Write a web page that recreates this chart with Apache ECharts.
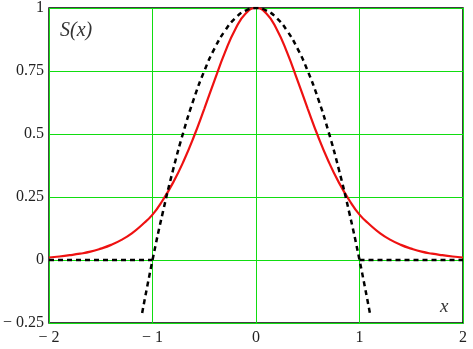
<!DOCTYPE html>
<html>
<head>
<meta charset="utf-8">
<script src="https://cdn.jsdelivr.net/npm/echarts@6/dist/echarts.min.js"></script>
<style>
html,body{margin:0;padding:0;background:#fff;}
#main{width:473px;height:349px;}
</style>
</head>
<body>
<div id="main"></div>
<script>
// red curve S(x)
var redX = [-2,-1.9,-1.8,-1.7,-1.6,-1.5,-1.4,-1.3,-1.2,-1.1,-1,-0.9,-0.8,-0.7,-0.6,-0.5,-0.4,-0.3,-0.2,-0.1,0,
            0.1,0.2,0.3,0.4,0.5,0.6,0.7,0.8,0.9,1,1.1,1.2,1.3,1.4,1.5,1.6,1.7,1.8,1.9,2];
var redY = [0.010,0.014,0.019,0.025,0.033,0.045,0.060,0.080,0.106,0.140,0.180,0.238,0.308,0.392,0.490,0.600,0.714,0.824,0.916,0.978,1,
            0.978,0.916,0.824,0.714,0.600,0.490,0.392,0.308,0.238,0.180,0.140,0.106,0.080,0.060,0.045,0.033,0.025,0.019,0.014,0.010];
// black dashed curve
var dashX = [-1.1,-1,-0.9,-0.8,-0.7,-0.6,-0.5,-0.4,-0.3,-0.2,-0.1,0,0.1,0.2,0.3,0.4,0.5,0.6,0.7,0.8,0.9,1,1.1];
var dashY = [-0.21,0,0.19,0.36,0.51,0.64,0.75,0.84,0.91,0.96,0.99,1,0.99,0.96,0.91,0.84,0.75,0.64,0.51,0.36,0.19,0,-0.21];
// flat dashed parts at zero
var zeroLeftX = [-2,-1];
var zeroRightX = [1,2];
var zeroY = [0,0];

function pairs(xs, ys){
    var out = [];
    for (var i = 0; i < xs.length; i++) out.push([xs[i], ys[i]]);
    return out;
}
function fmt(v){
    var s = String(v);
    if (s.charAt(0) === '-') s = '\u2212 ' + s.slice(1);
    return s;
}

var serif = '"Liberation Serif", "DejaVu Serif", serif';
var chart = echarts.init(document.getElementById('main'));
var dashStyle = {color:'#000', width:2.5, type:[5,4]};

chart.setOption({
    animation:false,
    grid:{left:49, right:10, top:8, bottom:26, show:true, borderColor:'#000', borderWidth:1.5, backgroundColor:'#fff'},
    xAxis:{
        type:'value', min:-2, max:2, interval:1,
        axisLine:{show:false}, axisTick:{show:false},
        axisLabel:{formatter:fmt, fontFamily:serif, fontSize:16, color:'#222', margin:7},
        splitLine:{lineStyle:{color:'#11dd11', width:1}}
    },
    yAxis:{
        type:'value', min:-0.25, max:1, interval:0.25,
        axisLine:{show:false}, axisTick:{show:false},
        axisLabel:{formatter:fmt, fontFamily:serif, fontSize:16, color:'#222', margin:5},
        splitLine:{lineStyle:{color:'#11dd11', width:1}}
    },
    graphic:[
        {type:'text', left:60, top:21, style:{text:'S(x)', fontFamily:serif, fontStyle:'italic', fontSize:20, fill:'#333'}},
        {type:'text', left:440, top:297, style:{text:'x', fontFamily:serif, fontStyle:'italic', fontSize:19, fill:'#333'}}
    ],
    series:[
        {type:'line', data:pairs(zeroLeftX, zeroY), symbol:'none', lineStyle:dashStyle, z:3},
        {type:'line', data:pairs(zeroRightX, zeroY), symbol:'none', lineStyle:dashStyle, z:3},
        {type:'line', data:pairs(redX, redY), symbol:'none', smooth:true, lineStyle:{color:'#ee1111', width:2.2}, z:2},
        {type:'line', data:pairs(dashX, dashY), symbol:'none', smooth:true, lineStyle:dashStyle, z:3}
    ]
});
</script>
</body>
</html>
